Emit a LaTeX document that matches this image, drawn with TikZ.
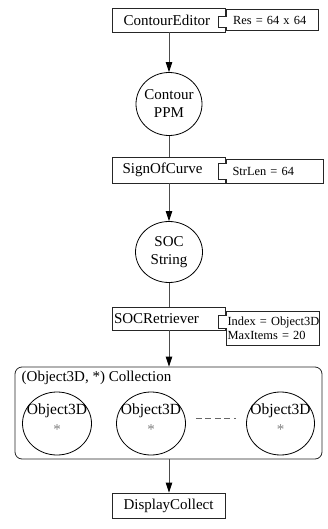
\documentclass[tikz,border=0pt]{standalone}
\usepackage{fontspec}
\setmainfont{Liberation Serif}
\usetikzlibrary{arrows.meta,shapes.geometric,calc}
\begin{document}
\begin{tikzpicture}[x=1pt,y=-1pt,
  conn/.style={draw=black!70, line width=0.9pt},
  arr/.style={conn, -{Triangle[length=10pt,width=6.5pt,black]}},
  mbox/.style={draw=black!85, line width=0.8pt, align=left, inner ysep=0pt, font=\fontsize{15}{18}\selectfont},
  oval/.style={ellipse, draw=black, line width=0.8pt, minimum width=66pt, minimum height=63pt, inner sep=0pt},
  ovaltext/.style={align=center, inner sep=0pt, font=\fontsize{15}{18}\selectfont},
  objtext/.style={inner sep=0pt, font=\fontsize{15.5}{18}\selectfont},
  startext/.style={inner sep=0pt, text=black!50, font=\fontsize{15}{18}\selectfont},
  anno/.style={anchor=west, inner ysep=0pt, align=left, font=\fontsize{12.4}{14}\selectfont},
  annoline/.style={draw=black!85, line width=0.8pt},
  coll/.style={draw=black!85, line width=0.8pt, rounded corners=7pt, minimum width=307pt, minimum height=92pt, inner sep=0pt},
  dashconn/.style={draw=black!60, line width=0.9pt, dash pattern=on 6pt off 3.5pt}
]
\useasboundingbox (0,0) rectangle (328,529);

% main boxes
\node[mbox, minimum height=24pt, text width=91pt, inner xsep=11pt] (editor) at (169,20) {ContourEditor};
\node[mbox, minimum height=26pt, text width=93pt, inner xsep=10pt] (sign) at (169,170) {SignOfCurve};
\node[mbox, minimum height=23pt, text width=110pt, inner xsep=1.5pt] (socr) at (169,318.5) {SOCRetriever};
\node[mbox, minimum height=25pt, text width=91pt, inner xsep=11pt] (disp) at (169,505.5) {DisplayCollect};

% ovals
\node[oval] (ppm) at (169,104) {};
\node[ovaltext] (ppmt) at (ppm.center) {Contour\\PPM};
\node[oval, minimum width=67pt, minimum height=61pt] (soc) at (169,252) {};
\node[ovaltext] (soct) at (soc.center) {SOC\\String};

% collection
\node[coll] (coll) at (168.5,413) {};
\node[anchor=base west, inner sep=0pt, font=\fontsize{15}{18}\selectfont] (colltitle) at (21.5,381) {(Object3D, *) Collection};
\node[oval, minimum width=69pt, minimum height=63pt] (o1) at (57,423.5) {};
\node[oval, minimum width=69pt, minimum height=63pt] (o2) at (151,423.5) {};
\node[oval, minimum width=68pt, minimum height=63pt] (o3) at (280.5,423.5) {};
\foreach \o in {o1,o2,o3}{
  \node[objtext, anchor=base] (\o t) at ([yshift=9.5pt]\o.center) {Object3D};
  \node[startext, anchor=base] (\o s) at ([yshift=-11pt]\o.center) {*};
}
\draw[dashconn] ([xshift=10pt,yshift=5.5pt]o2.east) -- ([xshift=-10pt,yshift=5.5pt]o3.west);

% connectors
\draw[arr] (editor.south) -- (ppm.north);
\draw[conn] (ppm.south) -- (sign.north);
\draw[arr] (sign.south) -- (soc.north);
\draw[conn] (soc.south) -- (socr.north);
\draw[arr] (socr.south) -- (socr.south |- coll.north);
\draw[arr] (disp.north |- coll.south) -- (disp.north);

% annotations
\node[anno, minimum height=21pt, text width=78.5pt, inner xsep=7pt] (res) at (editor.east) {Res = 64 x 64};
\fill[white] ([xshift=-8pt,yshift=4pt]editor.east) rectangle ([xshift=1pt,yshift=-7pt]editor.east);
\draw[annoline] ([yshift=4pt]editor.east) -- (res.north west) -- (res.north east) -- (res.south east) -- (res.south west) -- ([yshift=-7pt]editor.east) -- ++(-8,0) -- ([xshift=-8pt,yshift=4pt]editor.east) -- cycle;

\node[anno, minimum height=23pt, text width=84pt, inner xsep=6.5pt] (strlen) at ([yshift=-1.5pt]sign.east) {StrLen = 64};
\fill[white] ([xshift=-8pt,yshift=7pt]sign.east) rectangle ([xshift=1pt,yshift=-9pt]sign.east);
\draw[annoline] ([yshift=7pt]sign.east) -- (strlen.north west) -- (strlen.north east) -- (strlen.south east) -- (strlen.south west) -- ([yshift=-9pt]sign.east) -- ++(-8,0) -- ([xshift=-8pt,yshift=7pt]sign.east) -- cycle;

\node[anno, minimum height=33pt, text width=90pt, inner xsep=1.5pt] (idx) at ([yshift=-10pt]socr.east) {\mbox{Index = Object3D}\\\mbox{MaxItems = 20}};
\fill[white] ([xshift=-8pt,yshift=3.5pt]socr.east) rectangle ([xshift=1pt,yshift=-9.5pt]socr.east);
\draw[annoline] ([yshift=3.5pt]socr.east) -- (idx.north west) -- (idx.north east) -- (idx.south east) -- (idx.south west) -- ([yshift=-9.5pt]socr.east) -- ++(-8,0) -- ([xshift=-8pt,yshift=3.5pt]socr.east) -- cycle;
\end{tikzpicture}
\end{document}
